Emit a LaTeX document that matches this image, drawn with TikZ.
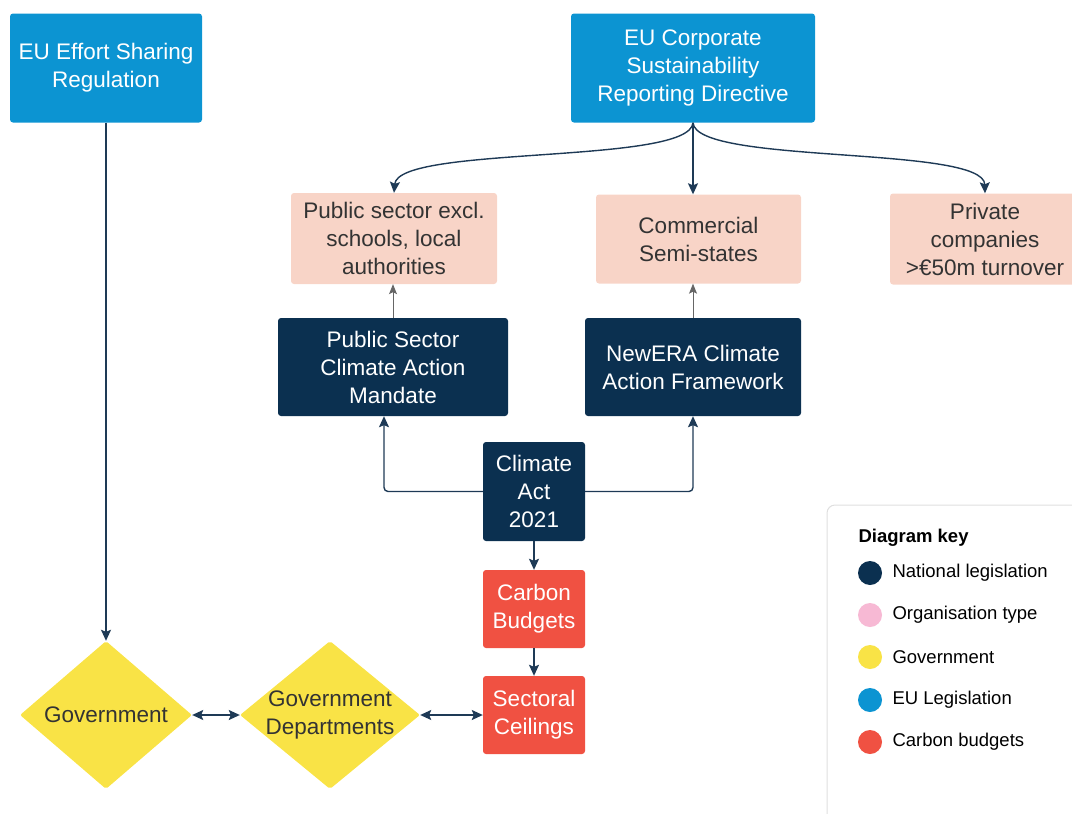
\documentclass[tikz,border=0pt]{standalone}
\usepackage{fontspec}
\setmainfont{Liberation Sans}
\usetikzlibrary{shapes.geometric,arrows.meta}

\definecolor{eublue}{HTML}{0C94D2}
\definecolor{navy}{HTML}{0B3050}
\definecolor{peach}{HTML}{F8D4C7}
\definecolor{govyellow}{HTML}{F9E346}
\definecolor{budgetred}{HTML}{F05142}
\definecolor{keypink}{HTML}{F7B9D4}
\definecolor{linecol}{HTML}{1E3A56}
\definecolor{txtgray}{HTML}{333333}

\tikzset{
  box/.style={rectangle, rounded corners=3pt, align=center, inner sep=0pt,
    font=\fontsize{22.5}{28}\selectfont},
  eu/.style={box, fill=eublue, text=white},
  org/.style={box, fill=peach, text=txtgray},
  natl/.style={box, fill=navy, text=white},
  budget/.style={box, fill=budgetred, text=white},
  gov/.style={diamond, fill=govyellow, inner sep=0pt, rounded corners=2pt,
    minimum width=172pt, minimum height=148pt},
  govtext/.style={align=center, text=txtgray, font=\fontsize{22.5}{28}\selectfont},
  tip/.style={Stealth[length=11pt,width=10pt,inset=2pt]},
  arr/.style={draw=linecol, line width=1.4pt, -{Stealth[length=11pt,width=10pt,inset=2pt]}},
  thin/.style={draw=gray!80!black, line width=0.9pt, -{Stealth[length=10pt,width=8pt,inset=2pt]}},
  both/.style={draw=linecol, line width=1.4pt,
    {Stealth[length=11pt,width=10pt,inset=2pt]}-{Stealth[length=11pt,width=10pt,inset=2pt]}},
  dot/.style={circle, minimum size=24pt, inner sep=0pt},
  keytext/.style={anchor=west, font=\fontsize{18.5}{22}\selectfont}
}

\begin{document}
\begin{tikzpicture}[x=1pt,y=1pt,yscale=-1]
  \useasboundingbox (0,0) rectangle (1072,814);

  \node[eu, minimum width=192pt, minimum height=109pt] (esr) at (106,68) {EU Effort Sharing\\Regulation};
  \node[eu, minimum width=244pt, minimum height=109pt] (csrd) at (693,68) {EU Corporate\\Sustainability\\Reporting Directive};

  \node[org, minimum width=206pt, minimum height=91pt] (pubsec) at (394,238.5) {Public sector excl.\\schools, local\\authorities};
  \node[org, minimum width=205pt, minimum height=89pt] (semistate) at (698.5,239) {Commercial\\Semi-states};
  \node[org, minimum width=190pt, minimum height=91pt] (private) at (985,239) {Private\\companies\\>€50m turnover};

  \node[natl, minimum width=230pt, minimum height=98pt] (mandate) at (393,367) {Public Sector\\Climate Action\\Mandate};
  \node[natl, minimum width=216pt, minimum height=98pt] (newera) at (693,367) {NewERA Climate\\Action Framework};
  \node[natl, minimum width=102pt, minimum height=99pt] (act) at (534,491.5) {Climate\\Act\\2021};

  \node[budget, minimum width=102pt, minimum height=78pt] (budgets) at (534,609) {Carbon\\Budgets};
  \node[budget, minimum width=102pt, minimum height=78pt] (ceilings) at (534,715) {Sectoral\\Ceilings};

  \node[gov, label={[govtext]center:Government}] (govt) at (106,715) {};
  \node[gov, minimum width=180pt, label={[govtext]center:Government\\Departments}] (depts) at (330,715) {};

  \draw[arr] (esr.south) -- (govt.north);
  \draw[arr] (csrd.south) .. controls (690,165) and (398,145) .. (pubsec.north);
  \draw[arr] (csrd.south) -- (semistate.north -| csrd.south);
  \draw[arr] (csrd.south) .. controls (696,165) and (984,145) .. (private.north);

  \draw[thin] (mandate.north) -- (pubsec.south -| mandate.north);
  \draw[thin] (newera.north) -- (semistate.south -| newera.north);

  \draw[arr, rounded corners=4pt] (act.west) -- (384,491.5) -- ([xshift=-9pt]mandate.south);
  \draw[arr, rounded corners=4pt] (act.east) -- (693,491.5) -- (newera.south);
  \draw[arr] (act.south) -- (budgets.north);
  \draw[arr] (budgets.south) -- (ceilings.north);

  \draw[both] (govt.east) -- (depts.west);
  \draw[both] (depts.east) -- (depts.east -| ceilings.west);

  % key
  \draw[draw=gray!25, line width=1pt, fill=white, rounded corners=8pt] (827,505) rectangle (1090,830);
  \node[keytext, font=\fontsize{18.5}{22}\selectfont\bfseries] (keytitle) at (855,538) {Diagram key};
  \foreach \y/\col/\txt [count=\i] in {573/navy/National legislation, 615/keypink/Organisation type,
      657/govyellow/Government, 700/eublue/EU Legislation, 742/budgetred/Carbon budgets} {
    \node[dot, fill=\col] (dot\i) at (870,\y) {};
    \node[keytext] (key\i) at (889,\y) {\txt};
  }
\end{tikzpicture}
\end{document}
